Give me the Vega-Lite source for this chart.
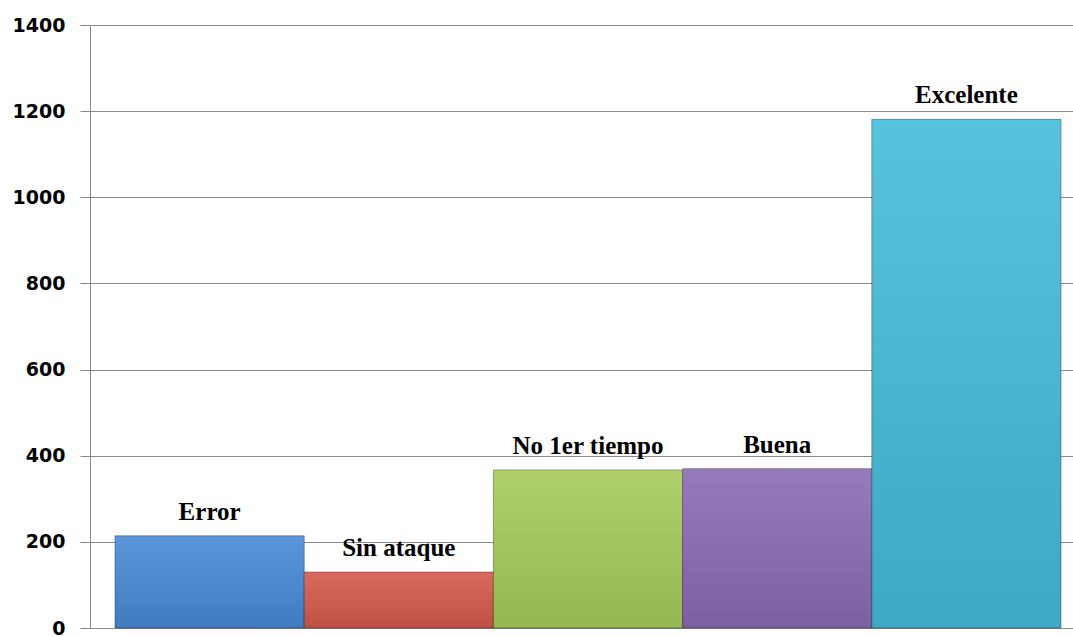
{
  "$schema": "https://vega.github.io/schema/vega-lite/v6.json",
  "width": 983,
  "height": 603,
  "autosize": "none",
  "padding": {"left": 90, "top": 25, "right": 0, "bottom": 9},
  "background": "white",
  "config": {"view": {"stroke": null}},
  "data": {
    "values": [
      {"cat": "Error", "value": 214},
      {"cat": "Sin ataque", "value": 130},
      {"cat": "No 1er tiempo", "value": 367},
      {"cat": "Buena", "value": 370},
      {"cat": "Excelente", "value": 1181}
    ]
  },
  "encoding": {
    "x": {
      "field": "cat",
      "type": "nominal",
      "sort": null,
      "scale": {"paddingInner": 0, "paddingOuter": 0.0978, "align": 0.676},
      "axis": null
    },
    "y": {
      "field": "value",
      "type": "quantitative",
      "scale": {"domain": [0, 1400], "nice": false},
      "axis": {
        "title": null,
        "format": "d",
        "values": [0, 200, 400, 600, 800, 1000, 1200, 1400],
        "domain": true,
        "domainColor": "#8a8a8a",
        "grid": true,
        "gridColor": "#8a8a8a",
        "gridOpacity": 1,
        "tickSize": 10,
        "tickColor": "#8a8a8a",
        "labelFont": "DejaVu Sans",
        "labelFontWeight": "bold",
        "labelFontSize": 19,
        "labelColor": "#000000",
        "labelPadding": 15
      }
    }
  },
  "layer": [
    {
      "mark": {"type": "bar", "stroke": "rgba(0,0,0,0.35)", "strokeWidth": 1},
      "encoding": {
        "color": {
          "field": "cat",
          "type": "nominal",
          "sort": null,
          "scale": {
            "domain": ["Error", "Sin ataque", "No 1er tiempo", "Buena", "Excelente"],
            "range": ["#488ad6", "#d6594c", "#a6cb5a", "#8b6ab6", "#43bcdb"]
          },
          "legend": null
        }
      }
    },
    {
      "mark": {
        "type": "bar",
        "color": {
          "gradient": "linear",
          "x1": 0, "y1": 0, "x2": 0, "y2": 1,
          "stops": [
            {"offset": 0, "color": "rgba(255,255,255,0.10)"},
            {"offset": 1, "color": "rgba(0,0,0,0.10)"}
          ]
        }
      }
    },
    {
      "mark": {
        "type": "text",
        "font": "Liberation Serif",
        "fontWeight": "bold",
        "fontSize": 25,
        "dy": -16,
        "baseline": "alphabetic",
        "color": "#000000"
      },
      "encoding": {"text": {"field": "cat"}}
    }
  ]
}
